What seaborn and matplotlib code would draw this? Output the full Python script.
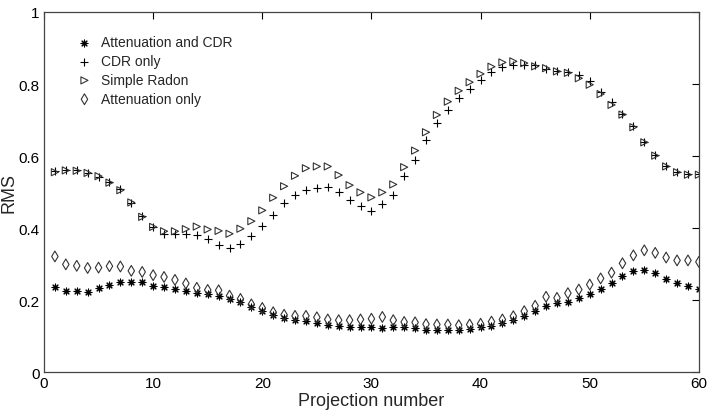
import numpy as np
import seaborn as sns
import matplotlib.pyplot as plt

sns.set_style("white")
plt.rcParams['font.family'] = ['Liberation Sans', 'DejaVu Sans']

projection = np.arange(1, 61)

att_cdr = [0.237, 0.225, 0.225, 0.222, 0.232, 0.243, 0.251, 0.249, 0.251, 0.238,
           0.235, 0.231, 0.226, 0.219, 0.216, 0.212, 0.204, 0.194, 0.180, 0.169,
           0.158, 0.150, 0.145, 0.141, 0.135, 0.131, 0.127, 0.126, 0.126, 0.124,
           0.121, 0.124, 0.124, 0.122, 0.118, 0.116, 0.116, 0.116, 0.119, 0.124,
           0.128, 0.136, 0.145, 0.156, 0.169, 0.183, 0.191, 0.194, 0.205, 0.217,
           0.231, 0.248, 0.268, 0.281, 0.283, 0.274, 0.258, 0.246, 0.239, 0.231]

cdr_only = [0.557, 0.561, 0.560, 0.552, 0.543, 0.527, 0.507, 0.470, 0.433, 0.404,
            0.384, 0.384, 0.384, 0.381, 0.369, 0.352, 0.344, 0.356, 0.377, 0.405,
            0.437, 0.469, 0.492, 0.506, 0.510, 0.515, 0.501, 0.479, 0.462, 0.448,
            0.466, 0.493, 0.544, 0.590, 0.644, 0.691, 0.729, 0.760, 0.786, 0.811,
            0.832, 0.846, 0.853, 0.853, 0.852, 0.842, 0.837, 0.833, 0.826, 0.807,
            0.777, 0.749, 0.718, 0.682, 0.640, 0.602, 0.572, 0.556, 0.549, 0.549]

simple_radon = [0.555, 0.560, 0.559, 0.553, 0.544, 0.526, 0.505, 0.471, 0.431, 0.403,
                0.391, 0.391, 0.397, 0.404, 0.396, 0.392, 0.384, 0.398, 0.419, 0.449,
                0.484, 0.516, 0.545, 0.566, 0.571, 0.571, 0.547, 0.519, 0.499, 0.485,
                0.499, 0.521, 0.569, 0.615, 0.666, 0.714, 0.751, 0.781, 0.805, 0.828,
                0.848, 0.860, 0.863, 0.858, 0.849, 0.844, 0.835, 0.831, 0.816, 0.798,
                0.772, 0.742, 0.715, 0.680, 0.638, 0.601, 0.571, 0.555, 0.548, 0.548]

att_only = [0.321, 0.299, 0.295, 0.289, 0.290, 0.294, 0.293, 0.281, 0.278, 0.269,
            0.264, 0.256, 0.246, 0.234, 0.228, 0.227, 0.212, 0.203, 0.188, 0.178,
            0.166, 0.159, 0.156, 0.156, 0.152, 0.146, 0.144, 0.144, 0.146, 0.148,
            0.153, 0.144, 0.139, 0.138, 0.133, 0.132, 0.132, 0.130, 0.132, 0.134,
            0.140, 0.146, 0.155, 0.169, 0.184, 0.209, 0.206, 0.219, 0.229, 0.243,
            0.260, 0.276, 0.302, 0.324, 0.338, 0.331, 0.318, 0.310, 0.310, 0.306]

fig = plt.figure(figsize=(7.28, 4.14), dpi=100)
ax = fig.add_axes([0.0604, 0.099, 0.8996, 0.8696])

# matlab-style asterisk: 8 spokes
sns.scatterplot(x=projection, y=att_cdr, marker=(8, 2, 0), s=24, color='k',
                linewidth=0.8, label='Attenuation and CDR', ax=ax)
sns.scatterplot(x=projection, y=cdr_only, marker='+', s=32, color='k',
                linewidth=0.8, label='CDR only', ax=ax)
sns.scatterplot(x=projection, y=simple_radon, marker='>', s=26, facecolor='none',
                edgecolor='#333333', linewidth=0.8, label='Simple Radon', ax=ax)
sns.scatterplot(x=projection, y=att_only, marker='d', s=30, facecolor='none',
                edgecolor='#333333', linewidth=0.8, label='Attenuation only', ax=ax)

ax.set_xlim(0, 60)
ax.set_ylim(0, 1)
ax.set_xticks(np.arange(0, 61, 10))
ax.set_yticks(np.arange(0, 1.01, 0.2))
ax.set_yticklabels(['0', '0.2', '0.4', '0.6', '0.8', '1'])
ax.tick_params(direction='in', length=5, labelsize=11, top=True, right=True,
               colors='k', width=0.8, pad=3)
for sp in ax.spines.values():
    sp.set_color('#444444')
    sp.set_linewidth(0.9)
ax.set_xlabel('Projection number', fontsize=13, labelpad=1)
ax.set_ylabel('RMS', fontsize=13, labelpad=1)

leg = ax.legend(loc='upper left', bbox_to_anchor=(0.03, 0.97), frameon=False,
                fontsize=10, handletextpad=0.6, labelspacing=0.35,
                handlelength=1.2)

fig.savefig('out.png', dpi=100)
